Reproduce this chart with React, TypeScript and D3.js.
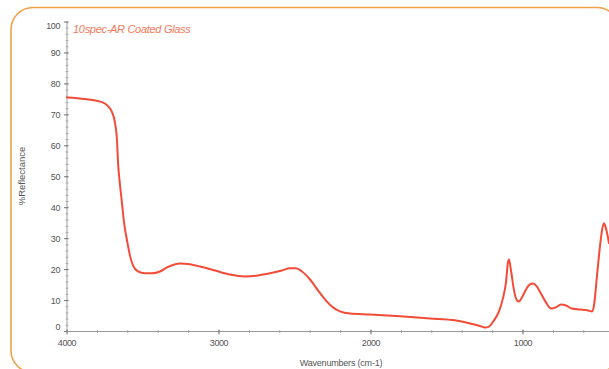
import React from "react";
import * as d3 from "d3";

const W = 609;
const H = 369;

const wavenumbers = [
  4000, 3882, 3770, 3730, 3704, 3684, 3671, 3664, 3651, 3638, 3625, 3605, 3586, 3566, 3533, 3487, 3441, 3388, 3342,
  3257, 3191, 3125, 3026, 2928, 2829, 2743, 2664, 2586, 2533, 2493, 2454, 2401, 2349, 2296, 2250, 2204, 2138, 2007,
  1809, 1612, 1447, 1349, 1283, 1250, 1224, 1191, 1158, 1132, 1112, 1099, 1092, 1079, 1059, 1039, 1026, 1007, 980,
  954, 934, 915, 882, 849, 816, 783, 750, 717, 678, 625, 572, 546, 533, 513, 493, 480, 467, 454, 434,
];
const reflectance = [
  75.6, 75.1, 74.1, 72.8, 70.9, 67.3, 61.8, 54.4, 47.2, 41.4, 35.3, 29.4, 24.6, 21.4, 19.4, 18.8, 18.8, 19.4, 20.7,
  22.0, 21.7, 21.0, 19.7, 18.4, 17.8, 18.1, 18.8, 19.7, 20.4, 20.4, 19.4, 16.8, 13.3, 10.0, 7.8, 6.5, 5.8, 5.5,
  4.9, 4.2, 3.6, 2.6, 1.8, 1.3, 1.6, 3.6, 6.5, 10.7, 15.9, 22.3, 23.3, 19.7, 13.3, 10.0, 9.7, 11.0, 13.6,
  15.2, 15.5, 14.9, 12.3, 9.4, 7.4, 7.8, 8.7, 8.4, 7.4, 7.1, 6.8, 6.5, 8.4, 18.1, 27.8, 32.7, 35.0, 33.3, 28.5,
];

const yTickValues = [100, 90, 80, 70, 60, 50, 40, 30, 20, 10, 0];
const yTickLabels = ["100", "90", "80", "70", "60", "50", "40", "30", "20", "10", "0"];
const xTickValues = [4000, 3000, 2000, 1000];
const xTickLabels = ["4000", "3000", "2000", "1000"];

const title = "10spec-AR Coated Glass";
const xTitle = "Wavenumbers (cm-1)";
const yTitle = "%Reflectance";

export default function App() {
  const x = d3.scaleLinear().domain([4000, 400]).range([67, 614.2]);
  const y = d3.scaleLinear().domain([0, 100]).range([331.5, 22]);

  const data = wavenumbers.map((w, i) => ({ w, r: reflectance[i] }));
  const line = d3
    .line<{ w: number; r: number }>()
    .x((d) => x(d.w))
    .y((d) => y(d.r))
    .curve(d3.curveMonotoneX);

  const yMinor = d3.range(0, 101, 2);
  const xMinor = d3.range(4000, 399, -200);
  const axisColor = "#9a9a9a";
  const textColor = "#555";
  const font = "'Liberation Sans', Arial, sans-serif";

  return (
    <svg
      width={W}
      height={H}
      style={{ position: "absolute", left: 0, top: 0, background: "#fff" }}
      fontFamily={font}
    >
      <rect x={11} y={7.5} width={608} height={365} rx={22} ry={22} fill="none" stroke="#f0a048" strokeWidth={1.6} />

      {/* Y axis */}
      <line x1={67} x2={67} y1={y(100)} y2={y(0)} stroke={axisColor} strokeWidth={1} />
      {yMinor.map((v) => (
        <line key={"ym" + v} x1={65.5} x2={68.5} y1={y(v)} y2={y(v)} stroke={axisColor} strokeWidth={0.7} />
      ))}
      {yTickValues.map((v, i) => (
        <g key={"yt" + v}>
          <line x1={64} x2={68.5} y1={y(v)} y2={y(v)} stroke="#777" strokeWidth={1} />
          <text
            x={60}
            y={y(v) + (v === 100 ? 4 : v === 0 ? -5 : 0)}
            dy="0.35em"
            textAnchor="end"
            fontSize={9}
            fill={textColor}
            letterSpacing={-0.4}
          >
            {yTickLabels[i]}
          </text>
        </g>
      ))}

      {/* X axis */}
      <line x1={67} x2={W} y1={y(0)} y2={y(0)} stroke={axisColor} strokeWidth={1} />
      {xMinor.map((v) => (
        <line key={"xm" + v} x1={x(v)} x2={x(v)} y1={y(0) - 1.5} y2={y(0) + 1.5} stroke={axisColor} strokeWidth={0.8} />
      ))}
      {xTickValues.map((v, i) => (
        <g key={"xt" + v}>
          <line x1={x(v)} x2={x(v)} y1={y(0) - 2} y2={y(0) + 3} stroke="#777" strokeWidth={1} />
          <text x={x(v)} y={y(0) + 14} textAnchor="middle" fontSize={9} fill={textColor} letterSpacing={-0.4}>
            {xTickLabels[i]}
          </text>
        </g>
      ))}

      {/* Titles */}
      <text x={73} y={33} fontSize={11} fontStyle="italic" fill="#f4785a" letterSpacing={-0.3}>
        {title}
      </text>
      <text x={341} y={366} textAnchor="middle" fontSize={9} fill={textColor} letterSpacing={-0.2}>
        {xTitle}
      </text>
      <text
        transform={`translate(25, 176) rotate(-90)`}
        textAnchor="middle"
        fontSize={9.5}
        fill={textColor}
      >
        {yTitle}
      </text>

      {/* Spectrum */}
      <path d={line(data) || ""} fill="none" stroke="#f24c38" strokeWidth={2} strokeLinejoin="round" strokeLinecap="round" />
    </svg>
  );
}
